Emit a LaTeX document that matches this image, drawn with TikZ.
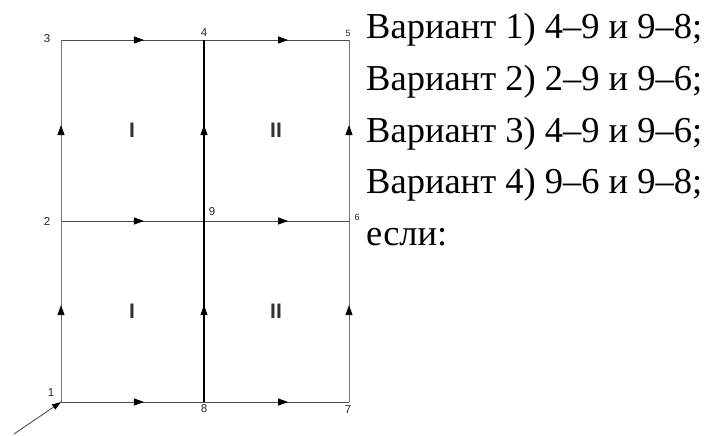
\documentclass[tikz,border=0pt]{standalone}
\usepackage{fontspec}
\setmainfont{Liberation Serif}
\newfontfamily\labfont{Liberation Sans}
\usetikzlibrary{arrows.meta,decorations.markings}
\tikzset{
  edge/.style={line width=0.9pt, draw=black!70, postaction={decorate},
    decoration={markings, mark=at position #1 with {\arrow{Triangle[length=10pt,width=7pt,color=black]}}}},
  edge/.default=0.58,
  midedge/.style={edge=#1, line width=1.05pt, draw=black},
  outedge/.style={edge=#1, line width=0.9pt, draw=black!55},
  numlab/.style={font=\labfont\fontsize{11.5}{11.5}\selectfont, inner sep=0pt, text=black!85},
  smalllab/.style={font=\labfont\fontsize{9}{9}\selectfont, inner sep=0pt, text=black!85},
  zonelab/.style={font=\labfont\bfseries\fontsize{21}{21}\selectfont, inner sep=0pt, text=black!80},
  textline/.style={font=\fontsize{36.5}{36.5}\selectfont, anchor=base west, inner sep=0pt},
}
\begin{document}
\begin{tikzpicture}[x=1pt,y=-1pt]
\useasboundingbox (0,0) rectangle (709,436);
\coordinate (n1) at (61,402);
\coordinate (n2) at (61,221);
\coordinate (n3) at (61,40);
\coordinate (n4) at (204,40);
\coordinate (n5) at (349,40);
\coordinate (n6) at (349,221);
\coordinate (n7) at (349,402);
\coordinate (n8) at (204,402);
\coordinate (n9) at (204,221);
\coordinate (s) at (14,434);
% horizontals
\draw[edge] (n3) -- (n4);
\draw[edge] (n4) -- (n5);
\draw[edge] (n2) -- (n9);
\draw[edge] (n9) -- (n6);
\draw[edge] (n1) -- (n8);
\draw[edge] (n8) -- (n7);
% verticals
\draw[outedge=0.535] (n1) -- (n2);
\draw[outedge=0.53] (n2) -- (n3);
\draw[midedge=0.535] (n8) -- (n9);
\draw[midedge=0.53] (n9) -- (n4);
\draw[outedge=0.535] (n7) -- (n6);
\draw[outedge=0.53] (n6) -- (n5);
% incoming
\draw[line width=0.8pt, draw=black!75, -{Triangle[length=9pt,width=6pt,color=black]}] (s) -- (n1);
% vertex labels
\node[numlab] (l3) at (47,39) {3};
\node[numlab] (l4) at (204,33) {4};
\node[smalllab] (l5) at (348,33) {5};
\node[numlab] (l2) at (47,221) {2};
\node[numlab] (l9) at (212,212) {9};
\node[smalllab] (l6) at (357,217) {6};
\node[numlab] (l1) at (51,393) {1};
\node[numlab] (l8) at (204,409) {8};
\node[numlab] (l7) at (348,410) {7};
% zone labels
\node[zonelab] (z1) at (132,130) {I};
\node[zonelab] (z2) at (276,130) {II};
\node[zonelab] (z3) at (132,311) {I};
\node[zonelab] (z4) at (276,311) {II};
% text
\node[textline] (t1) at (366,38) {Вариант 1) 4–9 и 9–8;};
\node[textline] (t2) at (366,90) {Вариант 2) 2–9 и 9–6;};
\node[textline] (t3) at (366,142) {Вариант 3) 4–9 и 9–6;};
\node[textline] (t4) at (366,193) {Вариант 4) 9–6 и 9–8;};
\node[textline] (t5) at (366,245) {если:};
\end{tikzpicture}
\end{document}
